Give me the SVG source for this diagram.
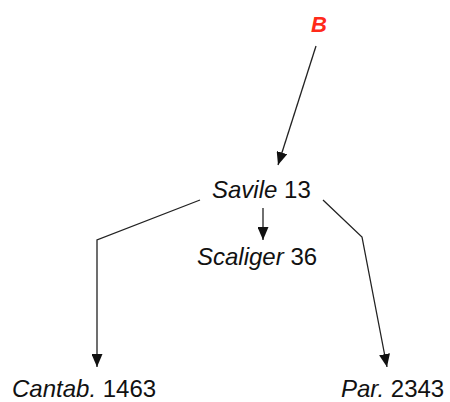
<svg xmlns="http://www.w3.org/2000/svg" width="450" height="402" viewBox="0 0 450 402">
<style>
text{font-family:"Liberation Sans",Arial,sans-serif;font-size:24px;fill:#111}
.i{font-style:italic}
.b{font-weight:bold;font-style:italic;fill:#ff2a1a;font-size:22px}
.c{fill:none;stroke:#222;stroke-width:1.3}
</style>
<defs>
<marker id="ah" viewBox="0 0 13 11" refX="13" refY="5.5" markerWidth="13" markerHeight="11" markerUnits="userSpaceOnUse" orient="auto">
<path d="M0,0 L13,5.5 L0,11 Z" fill="#111"/>
</marker>
</defs>
<g id="connectors">
<path class="c" d="M316,46 L278,165" marker-end="url(#ah)"/>
<path class="c" d="M263,208 L263,240" marker-end="url(#ah)"/>
<path class="c" d="M200,200 L97,240 L97,367" marker-end="url(#ah)"/>
<path class="c" d="M323,200 L362,237 L387,367" marker-end="url(#ah)"/>
</g>
<g id="B"><text class="b" x="311" y="32">B</text></g>
<g id="savile"><text x="212" y="198"><tspan class="i">Savile</tspan> 13</text></g>
<g id="scaliger"><text x="197" y="265"><tspan class="i">Scaliger</tspan> 36</text></g>
<g id="cantab"><text x="12" y="397"><tspan class="i">Cantab.</tspan> 1463</text></g>
<g id="par"><text x="341" y="397"><tspan class="i">Par.</tspan> 2343</text></g>
</svg>
